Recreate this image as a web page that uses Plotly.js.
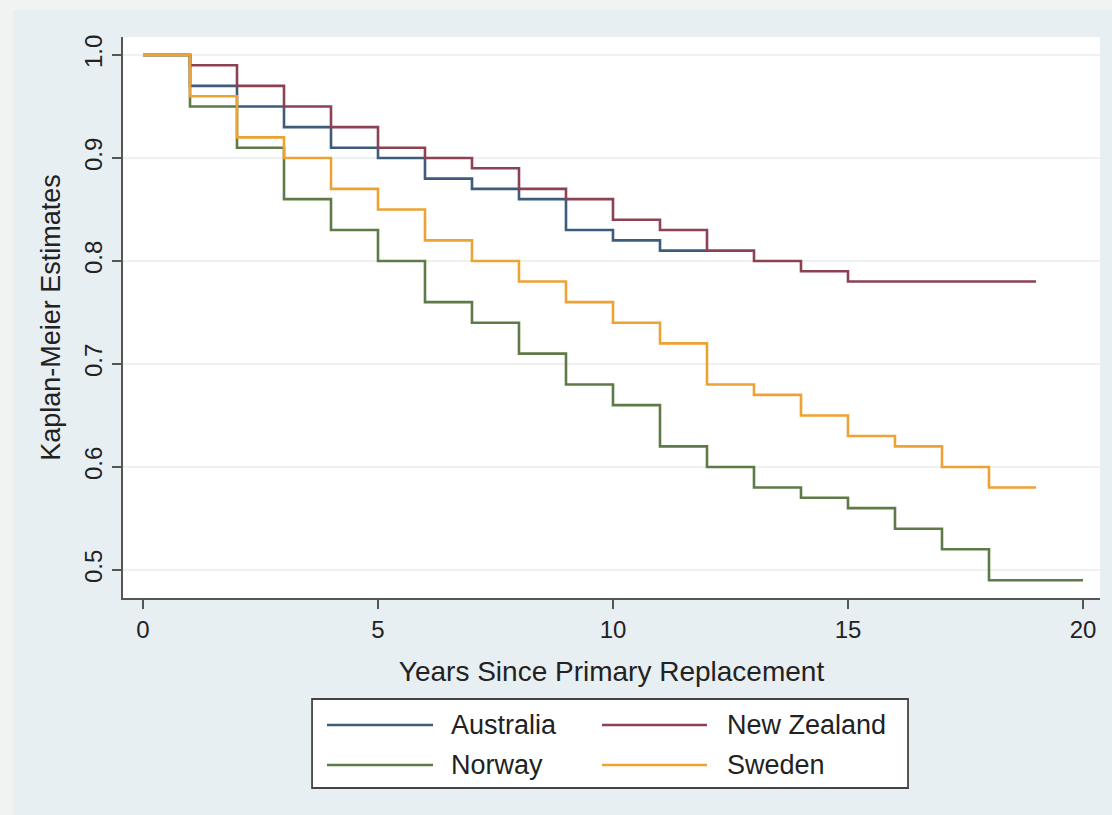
<!DOCTYPE html>
<html>
<head>
<meta charset="utf-8">
<script src="https://cdn.plot.ly/plotly-3.0.1.min.js"></script>
<style>
  html, body { margin: 0; padding: 0; background: #f1f2f2; }
  #chart { position: absolute; left: 13px; top: 10px; width: 1099px; height: 805px; }
</style>
</head>
<body>
<div id="chart"></div>
<script>
// ---- data ----
const seriesNames = ["Australia", "New Zealand", "Norway", "Sweden"];
const seriesColors = ["#3d5b7b", "#8c4252", "#5e7a47", "#eda234"];

const australiaYears = [0, 1, 2, 3, 4, 5, 6, 7, 8, 9, 10, 11, 12];
const australiaKM    = [1.00, 0.97, 0.95, 0.93, 0.91, 0.90, 0.88, 0.87, 0.86, 0.83, 0.82, 0.81, 0.81];

const newZealandYears = [0, 1, 2, 3, 4, 5, 6, 7, 8, 9, 10, 11, 12, 13, 14, 15, 19];
const newZealandKM    = [1.00, 0.99, 0.97, 0.95, 0.93, 0.91, 0.90, 0.89, 0.87, 0.86, 0.84, 0.83, 0.81, 0.80, 0.79, 0.78, 0.78];

const norwayYears = [0, 1, 2, 3, 4, 5, 6, 7, 8, 9, 10, 11, 12, 13, 14, 15, 16, 17, 18, 20];
const norwayKM    = [1.00, 0.95, 0.91, 0.86, 0.83, 0.80, 0.76, 0.74, 0.71, 0.68, 0.66, 0.62, 0.60, 0.58, 0.57, 0.56, 0.54, 0.52, 0.49, 0.49];

const swedenYears = [0, 1, 2, 3, 4, 5, 6, 7, 8, 9, 10, 11, 12, 13, 14, 15, 16, 17, 18, 19];
const swedenKM    = [1.00, 0.96, 0.92, 0.90, 0.87, 0.85, 0.82, 0.80, 0.78, 0.76, 0.74, 0.72, 0.68, 0.67, 0.65, 0.63, 0.62, 0.60, 0.58, 0.58];

const xTickVals = [0, 5, 10, 15, 20];
const yTickVals = [0.5, 0.6, 0.7, 0.8, 0.9, 1.0];
const yTickText = ["0.5", "0.6", "0.7", "0.8", "0.9", "1.0"];
const xTitle = "Years Since Primary Replacement";
const yTitle = "Kaplan-Meier Estimates";

// ---- build ----
const xs = [australiaYears, newZealandYears, norwayYears, swedenYears];
const ys = [australiaKM, newZealandKM, norwayKM, swedenKM];
const FONT = "Liberation Sans, Arial, sans-serif";

const traces = seriesNames.map((name, i) => ({
  type: "scatter", mode: "lines", name: name,
  x: xs[i], y: ys[i],
  line: { shape: "hv", color: seriesColors[i], width: 2.6 },
  showlegend: false, hoverinfo: "x+y+name"
}));

// custom legend (two columns, two rows) drawn in paper coordinates
const shapes = [{
  type: "rect", xref: "paper", yref: "paper",
  x0: 0.1935, x1: 0.8035, y0: -0.3387, y1: -0.1800,
  line: { color: "#444", width: 1.8 }, fillcolor: "#ffffff", layer: "below"
}];
const annotations = [];
const colLineX0 = [0.2088, 0.4903], colLineX1 = [0.3173, 0.5977], colTextX = [0.3337, 0.6162];
const rowY = [-0.2264, -0.2977];
seriesNames.forEach((name, i) => {
  const c = i % 2, r = Math.floor(i / 2);
  shapes.push({ type: "line", xref: "paper", yref: "paper",
    x0: colLineX0[c], x1: colLineX1[c], y0: rowY[r], y1: rowY[r],
    line: { color: seriesColors[i], width: 2.6 } });
  annotations.push({ xref: "paper", yref: "paper", x: colTextX[c], y: rowY[r],
    xanchor: "left", yanchor: "middle", showarrow: false, text: name,
    font: { family: FONT, size: 27, color: "#222" } });
});

const layout = {
  width: 1099, height: 805,
  margin: { l: 110, r: 12, t: 27, b: 217 },
  paper_bgcolor: "#e8eff2",
  plot_bgcolor: "#ffffff",
  font: { family: FONT, color: "#222" },
  showlegend: false,
  xaxis: {
    range: [-0.4255, 20.362], tickvals: xTickVals, ticks: "outside", ticklen: 9,
    tickwidth: 1.5, tickcolor: "#555", showgrid: false, zeroline: false,
    showline: true, linecolor: "#555", linewidth: 2,
    tickfont: { size: 24, color: "#222" },
    title: { text: xTitle, font: { size: 28, color: "#222" }, standoff: 20 }
  },
  yaxis: {
    range: [0.47272, 1.01748], tickvals: yTickVals, ticktext: yTickText,
    ticks: "outside", ticklen: 9, tickwidth: 1.5, tickcolor: "#555", tickangle: -90,
    showgrid: true, gridcolor: "#edf1f1", gridwidth: 1.2, zeroline: false,
    showline: true, linecolor: "#555", linewidth: 2,
    tickfont: { size: 24, color: "#222" },
    title: { text: yTitle, font: { size: 27, color: "#222" }, standoff: 12 }
  },
  shapes: shapes,
  annotations: annotations
};

Plotly.newPlot("chart", traces, layout, { displayModeBar: false, staticPlot: true });
</script>
</body>
</html>
